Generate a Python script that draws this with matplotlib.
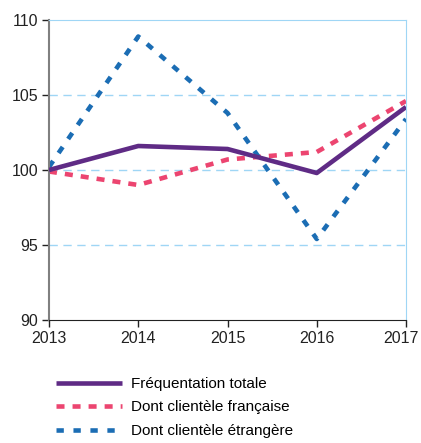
import matplotlib.pyplot as plt
from matplotlib.transforms import ScaledTranslation

plt.rcParams['font.family'] = ['Liberation Sans', 'DejaVu Sans']

annees = [2013, 2014, 2015, 2016, 2017]
totale = [100.0, 101.6, 101.4, 99.8, 104.2]
francaise = [99.9, 99.0, 100.7, 101.2, 104.6]
etrangere = [100.2, 108.9, 103.8, 95.4, 103.4]

fig = plt.figure(figsize=(4.21, 4.43), dpi=100)
ax = fig.add_axes([49/421, 1 - 320/443, 357/421, 300/443])

ax.plot(annees, totale, color='#5f2b85', linewidth=3.3, solid_capstyle='butt',
        label="Fréquentation totale", zorder=3)
ax.plot(annees, francaise, color='#ec4570', linewidth=3.3, dashes=(1.75, 1.75),
        label="Dont clientèle française", zorder=2)
ax.plot(annees, etrangere, color='#1b6db4', linewidth=3.3, dashes=(1.6, 2.1),
        label="Dont clientèle étrangère", zorder=2)

ax.set_xlim(2013, 2017)
ax.set_ylim(90, 110)
ax.set_xticks(annees)
ax.set_yticks([90, 95, 100, 105, 110])
for y in [95, 100, 105]:
    ax.axhline(y, color='#9fd6f5', linewidth=1.0, dashes=(6, 4), zorder=1)

ax.spines['top'].set_color('#9fd6f5')
ax.spines['right'].set_color('#9fd6f5')
ax.spines['left'].set_color('#808080')
ax.spines['left'].set_linewidth(1.5)
ax.spines['bottom'].set_color('#222222')
ax.tick_params(axis='both', labelsize=11.5, length=5, width=1, direction='out',
               colors='#222222')
ax.tick_params(axis='y', pad=3)
ax.tick_params(axis='x', pad=3)

# le dernier libellé déborde sinon à droite
derniere = ax.get_xticklabels()[-1]
derniere.set_transform(derniere.get_transform() + ScaledTranslation(-5/100, 0, fig.dpi_scale_trans))

ax.legend(loc='upper left', bbox_to_anchor=(0.02, -0.19), frameon=False,
          fontsize=11, handlelength=4.3, handletextpad=0.6, labelspacing=0.62,
          borderaxespad=0, borderpad=0)

fig.savefig('out.png', dpi=100)
